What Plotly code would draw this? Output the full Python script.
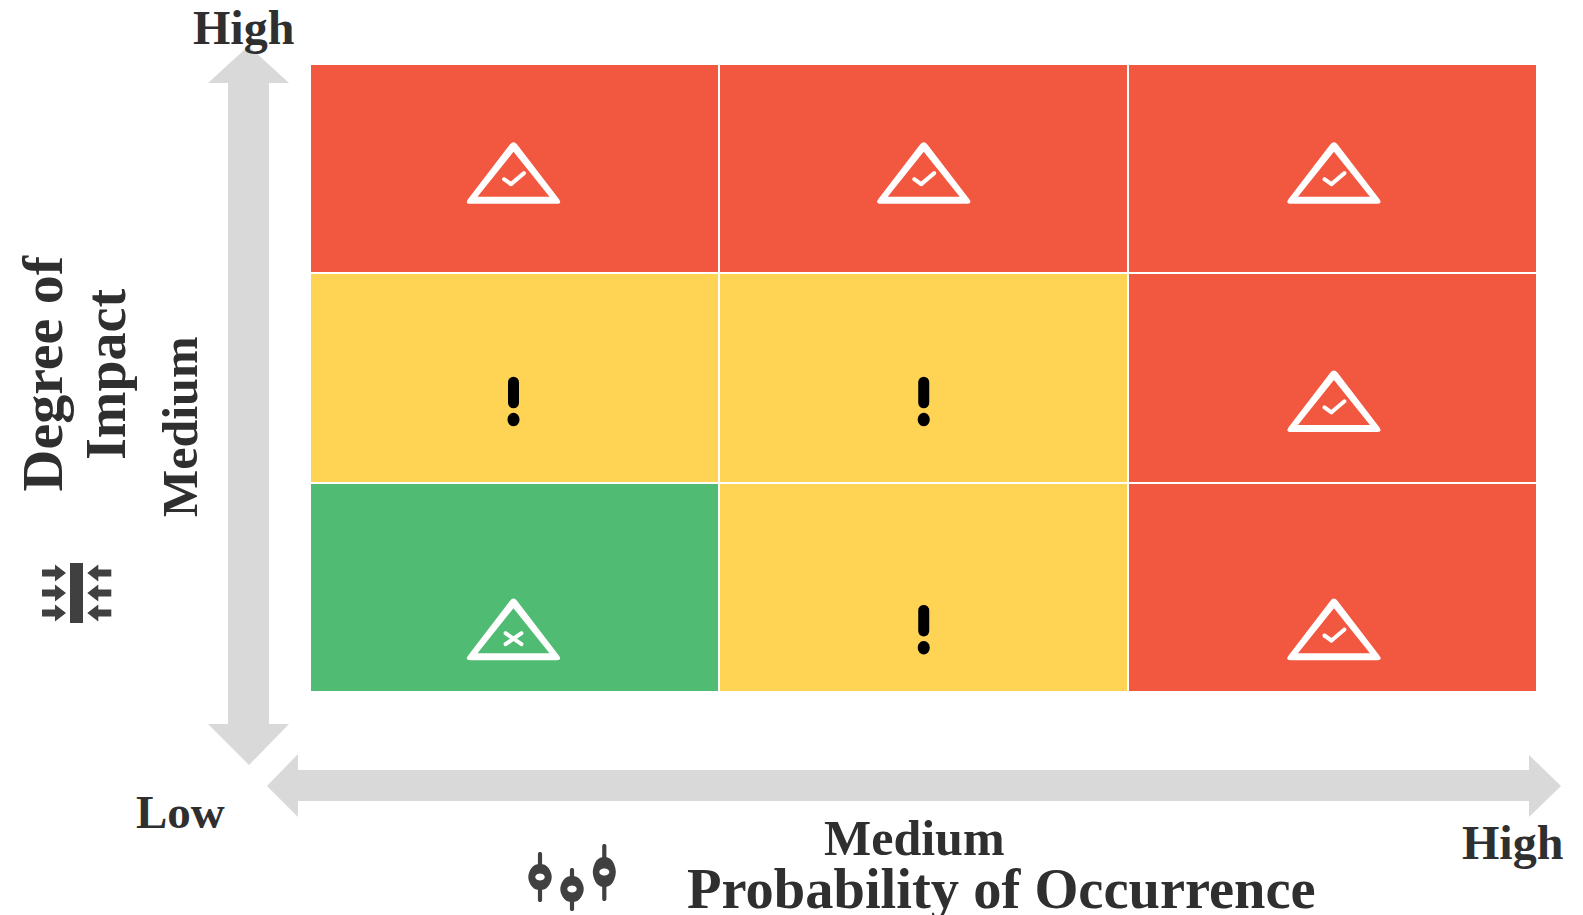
import math
import plotly.graph_objects as go

WIDTH, HEIGHT = 1583, 915

# ---- data ----
probability_levels = [0, 1, 2]          # Low, Medium, High
impact_levels = [0, 1, 2]               # Low, Medium, High
risk_low_impact = [0, 1, 2]
risk_medium_impact = [1, 1, 2]
risk_high_impact = [2, 2, 2]
icon_x = [0, 1.003, 2.006]
icon_y_low_impact = -0.2
icon_y_medium_impact = 0.89
icon_y_high_impact = 1.98
level_colors = ["#50BB72", "#FFD454", "#F25740"]
axis_color = "#D9D9D9"
icon_color = "#404040"
text_color = "#2F2F2F"

axis_labels = [
    # text, x, y, size, angle
    ("High", 243.5, 28, 48, 0),
    ("Low", 180, 812, 47, 0),
    ("Medium", 914, 838, 50, 0),
    ("High", 1512, 842, 48, 0),
    ("Probability of Occurrence", 1001, 889, 56.5, 0),
    ("Degree of", 41.5, 374, 58, 0 - 90),
    ("Impact", 106, 375, 56, 0 - 90),
    ("Medium", 180, 427, 50, 0 - 90),
]

# ---- plot frame in page pixels ----
FRAME_L, FRAME_R, FRAME_T, FRAME_B = 310, 1537, 64, 692


def px(x):
    return x / WIDTH


def py(y):
    return 1 - y / HEIGHT


def poly(points, close=True):
    s = "M" + " L".join(f"{x:.6f},{y:.6f}" for x, y in points)
    return s + (" Z" if close else "")


def paper_poly(points, color):
    return dict(type="path", xref="paper", yref="paper", layer="above",
                path=poly([(px(x), py(y)) for x, y in points]),
                fillcolor=color, line=dict(width=0))


def capsule(x0, y0, x1, y1, w, n=8):
    a = math.atan2(y1 - y0, x1 - x0)
    r = w / 2
    pts = []
    for i in range(n + 1):
        t = a + math.pi / 2 + math.pi * i / n
        pts.append((x0 + r * math.cos(t), y0 + r * math.sin(t)))
    for i in range(n + 1):
        t = a - math.pi / 2 + math.pi * i / n
        pts.append((x1 + r * math.cos(t), y1 + r * math.sin(t)))
    return pts


def ellipse(cx, cy, rx, ry, n=24):
    return [(cx + rx * math.cos(2 * math.pi * i / n),
             cy + ry * math.sin(2 * math.pi * i / n)) for i in range(n)]


def anchored(path, xv, yv, color, fillrule="nonzero"):
    return dict(type="path", xref="x", yref="y", xsizemode="pixel", ysizemode="pixel",
                xanchor=xv, yanchor=yv, path=path, fillcolor=color, layer="above",
                fillrule=fillrule, line=dict(width=0))


def flip(points):
    return [(x - 1, -y) for x, y in points]


def rounded_triangle(points, r):
    parts = []
    n = len(points)
    for i in range(n):
        p = points[i]
        a = points[i - 1]
        b = points[(i + 1) % n]
        la = math.dist(p, a)
        lb = math.dist(p, b)
        s = (p[0] + (a[0] - p[0]) * r / la, p[1] + (a[1] - p[1]) * r / la)
        e = (p[0] + (b[0] - p[0]) * r / lb, p[1] + (b[1] - p[1]) * r / lb)
        parts.append(("M" if i == 0 else "L") + f"{s[0]:.2f},{s[1]:.2f}")
        parts.append(f"Q{p[0]:.2f},{p[1]:.2f} {e[0]:.2f},{e[1]:.2f}")
    return " ".join(parts) + " Z"


def triangle_shapes(xv, yv, kind):
    outer = rounded_triangle(flip([(0, -33), (-49, 31), (49, 31)]), 6)
    inner = poly(flip([(0, -21), (-36, 24), (36, 24)]))
    out = [anchored(outer + " " + inner, xv, yv, "#FFFFFF", "evenodd")]
    if kind == "check":
        pieces = [capsule(-9.5, 6.3, -2.5, 11.3, 4), capsule(-2.5, 11.3, 10.5, 0.3, 4)]
    else:
        pieces = [capsule(-8, 4, 8, 15, 4), capsule(8, 4, -8, 15, 4)]
    for pts in pieces:
        out.append(anchored(poly(flip(pts)), xv, yv, "#FFFFFF"))
    return out


def exclamation_shapes(xv, yv):
    return [anchored(poly(flip(capsule(0, -18.8, 0, 1.8, 11))), xv, yv, "#000000"),
            anchored(poly(flip(ellipse(0, 18.5, 6, 6.8))), xv, yv, "#000000")]


shapes = []

# grey double arrows
shapes.append(paper_poly([(228, 83), (208, 83), (248.5, 46), (289, 83), (269, 83), (269, 724),
                          (289, 724), (249, 765), (208, 724), (228, 724)], axis_color))
shapes.append(paper_poly([(298, 770), (298, 754), (267, 786), (298, 817), (298, 801), (1529, 801),
                          (1529, 817), (1561, 786), (1529, 755), (1529, 770)], axis_color))

# icons inside the cells
rows = [(risk_low_impact, icon_y_low_impact),
        (risk_medium_impact, icon_y_medium_impact),
        (risk_high_impact, icon_y_high_impact)]
for values, yv in rows:
    for xv, level in zip(icon_x, values):
        if level == 0:
            shapes += triangle_shapes(xv, yv, "cross")
        elif level == 1:
            shapes += exclamation_shapes(xv, yv)
        else:
            shapes += triangle_shapes(xv, yv, "check")

# pressure pictogram
shapes.append(paper_poly([(70, 563), (83, 563), (83, 623), (70, 623)], icon_color))
for cy in (573, 593, 613):
    shapes.append(paper_poly([(42, cy - 3.5), (55, cy - 3.5), (55, cy - 8.5), (66, cy), (55, cy + 8.5),
                              (55, cy + 3.5), (42, cy + 3.5)], icon_color))
    shapes.append(paper_poly([(111.3, cy - 3.5), (98.3, cy - 3.5), (98.3, cy - 8.5), (87.3, cy),
                              (98.3, cy + 8.5), (98.3, cy + 3.5), (111.3, cy + 3.5)], icon_color))


# slider pictogram
def knob(cx, cy, rx, ry, n=40):
    pts = []
    for i in range(n):
        t = 2 * math.pi * i / n
        c, s = math.cos(t), math.sin(t)
        pts.append((cx + rx * abs(c) ** 0.8 * (1 if c >= 0 else -1),
                    cy + ry * abs(s) ** 1.2 * (1 if s >= 0 else -1)))
    return pts


for cx, cy, top, bot, rx, ry, hx, hy in [(540, 877, 852, 902, 11.7, 13, 4.7, 3.4),
                                         (572, 889, 868, 911, 11.7, 13, 4.7, 3.4),
                                         (604.3, 872, 844, 901, 11.5, 15, 5, 3.6)]:
    shapes.append(paper_poly(capsule(cx, top + 2, cx, bot - 2, 4.2), icon_color))
    shapes.append(paper_poly(knob(cx, cy, rx, ry), icon_color))
    shapes.append(paper_poly(ellipse(cx, cy, hx, hy), "#FFFFFF"))

annotations = [
    dict(text=t, x=px(x), y=py(y), xref="paper", yref="paper", showarrow=False,
         xanchor="center", yanchor="middle", textangle=a, borderpad=0,
         font=dict(family="Liberation Serif", size=s, color=text_color, weight=700))
    for t, x, y, s, a in axis_labels
]

fig = go.Figure(go.Heatmap(
    x=probability_levels,
    y=impact_levels,
    z=[risk_low_impact, risk_medium_impact, risk_high_impact],
    zmin=0, zmax=2,
    colorscale=[[0, level_colors[0]], [0.33, level_colors[0]],
                [0.33, level_colors[1]], [0.66, level_colors[1]],
                [0.66, level_colors[2]], [1, level_colors[2]]],
    showscale=False, xgap=2, ygap=2, hoverinfo="skip",
))

fig.update_layout(
    width=WIDTH, height=HEIGHT, margin=dict(l=0, r=0, t=0, b=0),
    paper_bgcolor="#FFFFFF", plot_bgcolor="#FFFFFF",
    xaxis=dict(domain=[px(FRAME_L), px(FRAME_R)], range=[-0.5, 2.5], visible=False, fixedrange=True),
    yaxis=dict(domain=[py(FRAME_B), py(FRAME_T)], range=[-0.5, 2.5], visible=False, fixedrange=True),
    shapes=shapes, annotations=annotations, showlegend=False,
)

fig.write_html("out.html", config=dict(displayModeBar=False),
               post_script="document.body.style.margin='0';document.documentElement.style.overflow='hidden';")
